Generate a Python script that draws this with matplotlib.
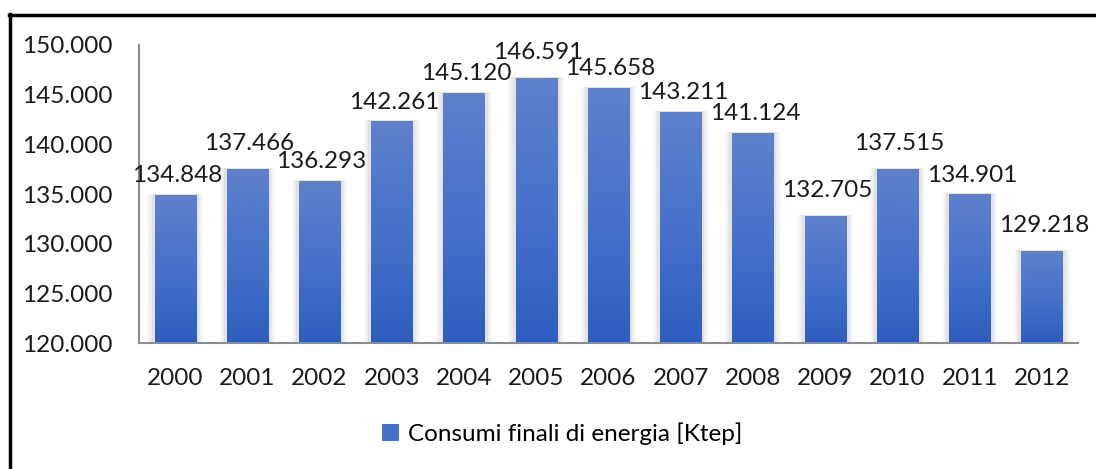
import matplotlib
matplotlib.use("Agg")
import matplotlib.pyplot as plt
import numpy as np
from matplotlib.colors import LinearSegmentedColormap
from matplotlib.patches import Rectangle
from matplotlib.lines import Line2D

years = ["2000", "2001", "2002", "2003", "2004", "2005", "2006",
         "2007", "2008", "2009", "2010", "2011", "2012"]
values = [134848, 137466, 136293, 142261, 145120, 146591, 145658,
          143211, 141124, 132705, 137515, 134901, 129218]
series_name = "Consumi finali di energia [Ktep]"
yticks = [120000, 125000, 130000, 135000, 140000, 145000, 150000]

plt.rcParams['font.family'] = ['Lato', 'DejaVu Sans']

def it_fmt(v):
    return f"{v:,.0f}".replace(",", ".")

fig = plt.figure(figsize=(10.96, 4.69), dpi=100)
ax = fig.add_axes([139/1096, 1-343/469, (1078-139)/1096, (343-45)/469])

ymin, ymax = 120000, 150000
x = np.arange(len(years))
width = 0.57

cmap = LinearSegmentedColormap.from_list("g", ["#2D5DBE", "#4672CB", "#5E81CB"])
grad = np.linspace(0, 1, 256).reshape(-1, 1)

# label nudges (points), as in the original layout's collision handling
lifted = {1, 5, 9, 10, 12}

for i, (xi, v) in enumerate(zip(x, values)):
    # soft shadow
    for k, a in [(0.10, 0.06), (0.07, 0.08), (0.04, 0.10)]:
        ax.add_patch(Rectangle((xi - width/2 - k, ymin), width + 2*k, v - ymin + 150,
                               facecolor="#808080", alpha=a, edgecolor="none", zorder=1))
    ax.imshow(grad, extent=(xi - width/2, xi + width/2, ymin, v), origin="lower",
              cmap=cmap, aspect="auto", zorder=2, interpolation="bicubic")
    dy = 9.5 + (4.5 if i in lifted else 0)
    ax.annotate(it_fmt(v), (xi, v), xytext=(1.5, dy),
                textcoords="offset points", ha="center", va="baseline",
                fontsize=17.5, color="#1a1a1a", zorder=3)

ax.set_xlim(-0.5, len(years) - 0.5)
ax.set_ylim(ymin, ymax)
ax.set_xticks(x)
ax.set_xticklabels(years)
ax.set_yticks(yticks)
ax.set_yticklabels([it_fmt(t) for t in yticks])
ax.tick_params(axis="both", length=0, labelsize=17.5, colors="#1a1a1a")
ax.tick_params(axis="x", pad=18)
ax.tick_params(axis="y", pad=19)
for s in ["top", "right"]:
    ax.spines[s].set_visible(False)
for s in ["left", "bottom"]:
    ax.spines[s].set_color("#8c8c8c")
    ax.spines[s].set_linewidth(1.5)

# legend
handle = Rectangle((0, 0), 1, 1, facecolor="#4672CB", edgecolor="none")
fig.legend([handle], [series_name], loc="center", bbox_to_anchor=(562/1096, 1-434/469),
           frameon=False, fontsize=17.5, handlelength=0.7, handleheight=0.7, handletextpad=0.35)

# frame (top and left visible)
fig.add_artist(Line2D([10/1096, 10/1096], [0, 1-14/469], transform=fig.transFigure,
                      color="black", linewidth=2.5))
fig.add_artist(Line2D([9/1096, 1], [1-15/469, 1-15/469], transform=fig.transFigure,
                      color="black", linewidth=2.5))

fig.savefig("out.png", dpi=100)
